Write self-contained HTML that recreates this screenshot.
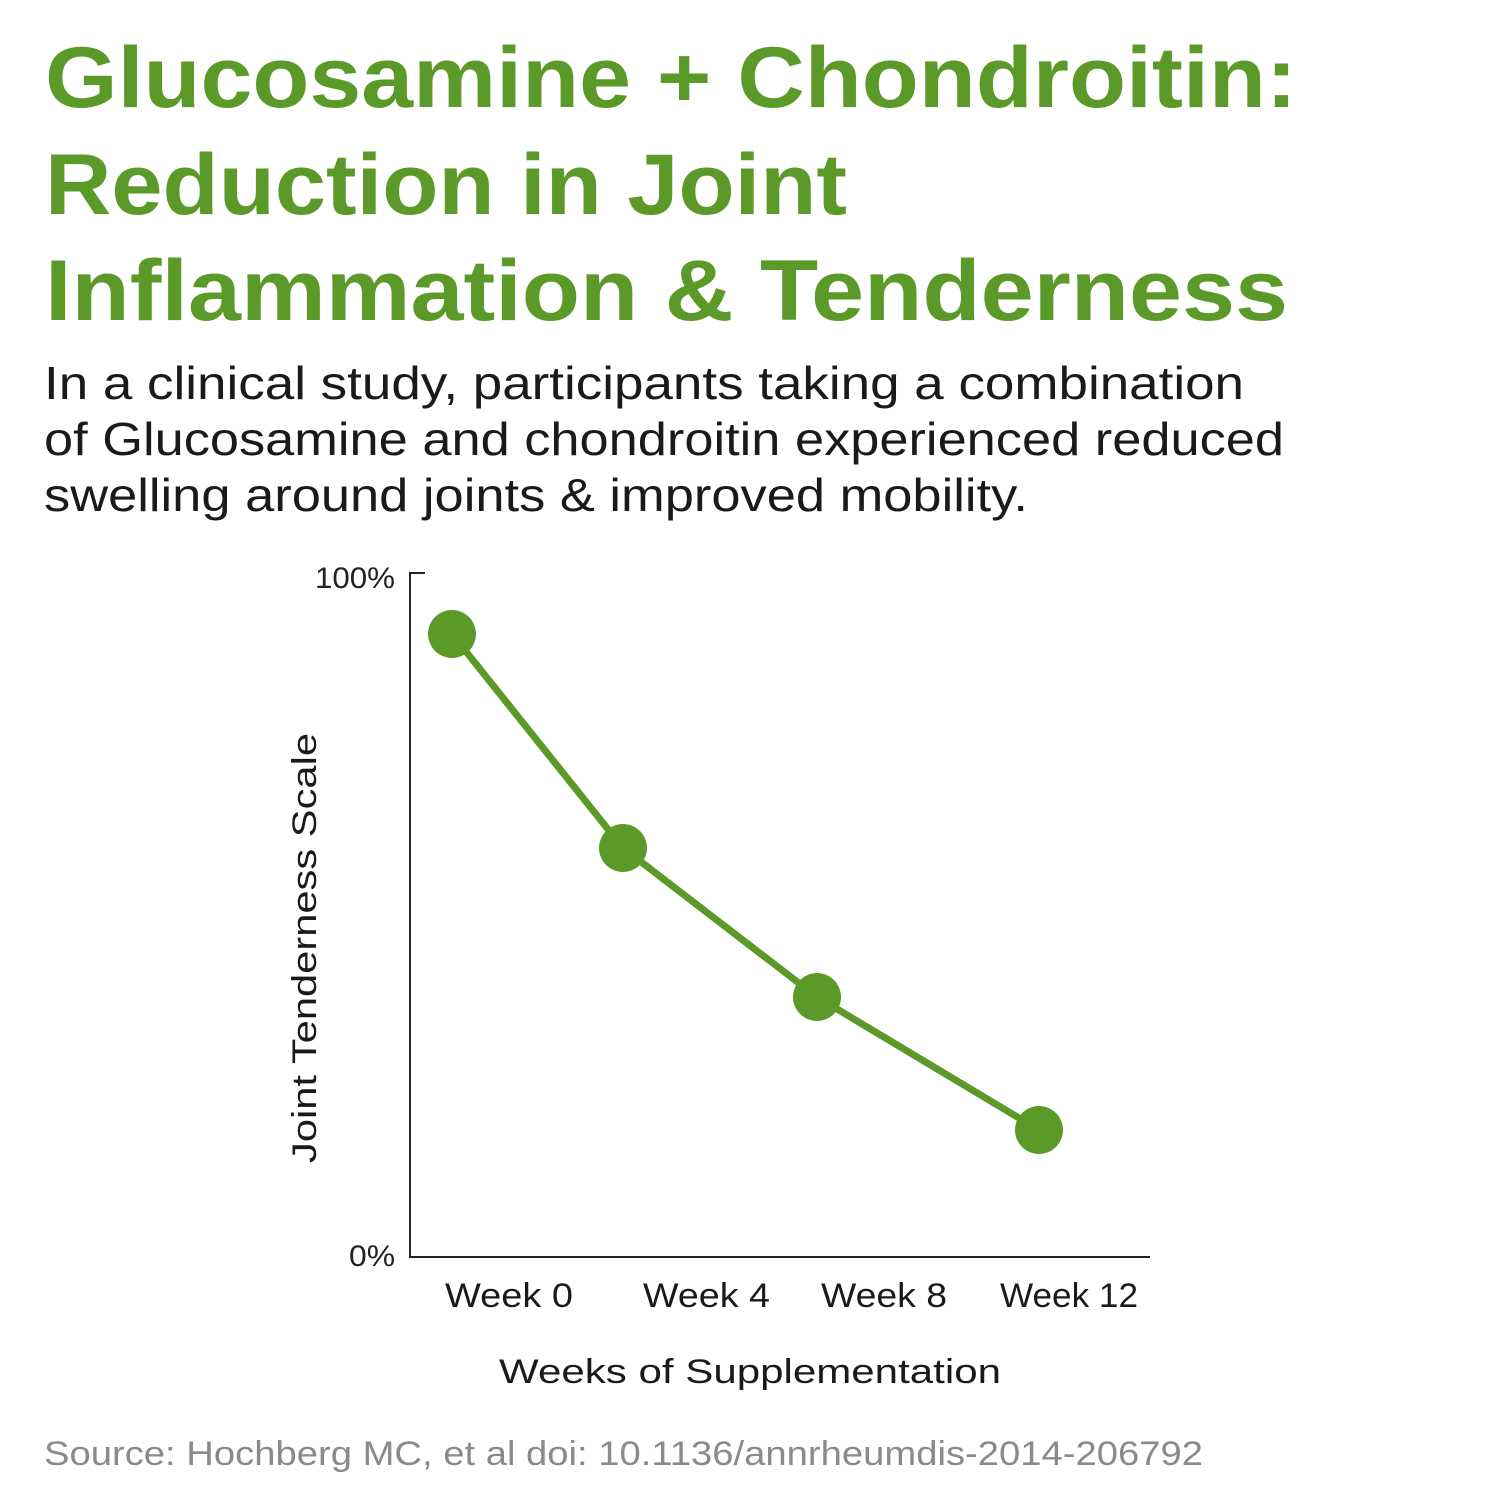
<!DOCTYPE html>
<html><head><meta charset="utf-8"><style>html,body{margin:0;padding:0;background:#fff}svg{display:block}</style></head>
<body>
<svg width="1500" height="1500" viewBox="0 0 1500 1500" xmlns="http://www.w3.org/2000/svg" font-family="Liberation Sans, DejaVu Sans, sans-serif">
<rect width="1500" height="1500" fill="#fff"/>
<g fill="#5b9a28" font-weight="bold" font-size="86">
<text x="45" y="107" textLength="1252" lengthAdjust="spacingAndGlyphs">Glucosamine + Chondroitin:</text>
<text x="45" y="214" textLength="802" lengthAdjust="spacingAndGlyphs">Reduction in Joint</text>
<text x="45" y="320" textLength="1243" lengthAdjust="spacingAndGlyphs">Inflammation &amp; Tenderness</text>
</g>
<g fill="#1a1a1a" font-size="46">
<text x="44" y="399" textLength="1200" lengthAdjust="spacingAndGlyphs">In a clinical study, participants taking a combination</text>
<text x="44" y="455" textLength="1240" lengthAdjust="spacingAndGlyphs">of Glucosamine and chondroitin experienced reduced</text>
<text x="44" y="511" textLength="984" lengthAdjust="spacingAndGlyphs">swelling around joints &amp; improved mobility.</text>
</g>
<g stroke="#222" stroke-width="2" fill="none">
<path d="M425 573 H410 V1257 H1150"/>
</g>
<g fill="#222" font-size="30">
<text x="315" y="588" textLength="80" lengthAdjust="spacingAndGlyphs">100%</text>
<text x="349" y="1266" textLength="46" lengthAdjust="spacingAndGlyphs">0%</text>
</g>
<polyline points="452,634 623,848 817,997 1039,1130" fill="none" stroke="#5b9a28" stroke-width="7"/>
<g fill="#5b9a28">
<circle cx="452" cy="634" r="24"/><circle cx="623" cy="848" r="24"/><circle cx="817" cy="997" r="24"/><circle cx="1039" cy="1130" r="24"/>
</g>
<g fill="#1a1a1a" font-size="34">
<text x="445" y="1307" textLength="128" lengthAdjust="spacingAndGlyphs">Week 0</text>
<text x="643" y="1307" textLength="127" lengthAdjust="spacingAndGlyphs">Week 4</text>
<text x="821" y="1307" textLength="126" lengthAdjust="spacingAndGlyphs">Week 8</text>
<text x="1000" y="1307" textLength="138" lengthAdjust="spacingAndGlyphs">Week 12</text>
<text x="750" y="1383" text-anchor="middle" textLength="502" lengthAdjust="spacingAndGlyphs">Weeks of Supplementation</text>
<text transform="translate(316,948) rotate(-90)" text-anchor="middle" textLength="430" lengthAdjust="spacingAndGlyphs">Joint Tenderness Scale</text>
</g>
<text x="44" y="1465" fill="#8a8a8a" font-size="34" textLength="1159" lengthAdjust="spacingAndGlyphs">Source: Hochberg MC, et al doi: 10.1136/annrheumdis-2014-206792</text>
</svg>
</body></html>
